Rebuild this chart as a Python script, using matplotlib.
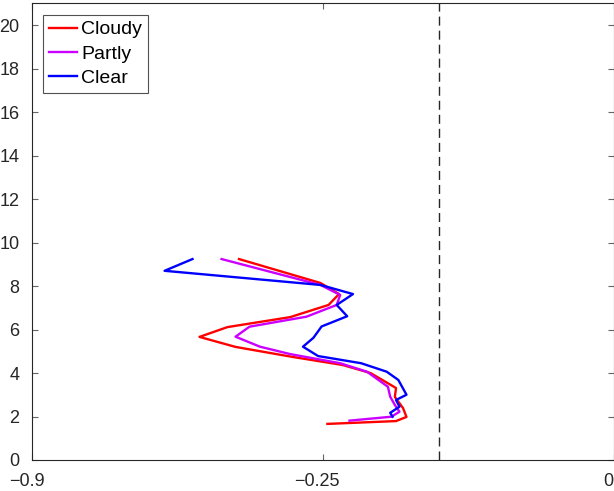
import matplotlib
matplotlib.use("Agg")
import matplotlib.pyplot as plt
from matplotlib.transforms import ScaledTranslation

plt.rcParams['font.family'] = ['Liberation Sans', 'DejaVu Sans']

# Data (x in axis units, y = height)
cloudy_x = [-0.322, -0.252, -0.236, -0.245, -0.278, -0.332, -0.356, -0.325, -0.276,
            -0.233, -0.209, -0.187, -0.188, -0.181, -0.178, -0.187, -0.246]
cloudy_y = [9.24, 8.14, 7.63, 7.13, 6.57, 6.11, 5.66, 5.20, 4.74,
            4.37, 4.00, 3.31, 2.90, 2.39, 1.98, 1.79, 1.66]

partly_x = [-0.337, -0.252, -0.235, -0.238, -0.264, -0.313, -0.325, -0.304, -0.278,
            -0.235, -0.212, -0.194, -0.192, -0.188, -0.184, -0.191, -0.227]
partly_y = [9.24, 8.05, 7.59, 7.13, 6.59, 6.13, 5.67, 5.21, 4.87,
            4.45, 4.06, 3.37, 2.91, 2.53, 2.22, 1.99, 1.81]

clear_x = [-0.362, -0.386, -0.252, -0.224, -0.238, -0.229, -0.251, -0.258, -0.267,
           -0.254, -0.217, -0.195, -0.185, -0.178, -0.187, -0.184, -0.192, -0.190]
clear_y = [9.24, 8.70, 8.05, 7.63, 7.13, 6.61, 6.14, 5.62, 5.21,
           4.78, 4.45, 4.06, 3.68, 3.00, 2.76, 2.45, 2.17, 1.99]

series_names = ['Cloudy', 'Partly', 'Clear']
series_colors = ['#FF0000', '#CC00FF', '#0000FF']

x_ticks = [-0.5, -0.25, 0.0]
x_ticklabels = ['\u22120.9', '\u22120.25', '0']
y_ticks = list(range(0, 21, 2))
ref_x = -0.15

fig = plt.figure(figsize=(6.14, 4.91), dpi=100)
ax = fig.add_axes([32/614, 31/491, 581.5/614, 456.7/491])

for xs, ys, name, c in zip([cloudy_x, partly_x, clear_x], [cloudy_y, partly_y, clear_y],
                           series_names, series_colors):
    ax.plot(xs, ys, color=c, lw=1.7, label=name)

ax.axvline(ref_x, color='#262626', lw=1.0, dashes=(6.5, 3.6))

ax.set_xlim(-0.5, 0)
ax.set_ylim(0, 21)
ax.set_xticks(x_ticks)
ax.set_xticklabels(x_ticklabels)
ax.set_yticks(y_ticks)

for s in ax.spines.values():
    s.set_color('#262626')
    s.set_linewidth(0.8)
ax.tick_params(direction='in', length=4.3, width=0.8, color='#666666',
               labelsize=13, labelcolor='#262626', top=True, right=True)
ax.tick_params(axis='x', pad=9)
ax.tick_params(axis='y', pad=9)

shift = ScaledTranslation(-5.5/100, 0, fig.dpi_scale_trans)
for lab in ax.get_xticklabels():
    lab.set_transform(lab.get_transform() + shift)

leg = ax.legend(loc='upper left', fontsize=14, frameon=True, fancybox=False,
                edgecolor='#262626', handlelength=1.45, handletextpad=0.2,
                borderpad=0.3, labelspacing=0.34, borderaxespad=0.0,
                bbox_to_anchor=(11/581.5, 1 - 11.7/456.7))
leg.get_frame().set_linewidth(0.8)

fig.savefig('out.png', dpi=100)
